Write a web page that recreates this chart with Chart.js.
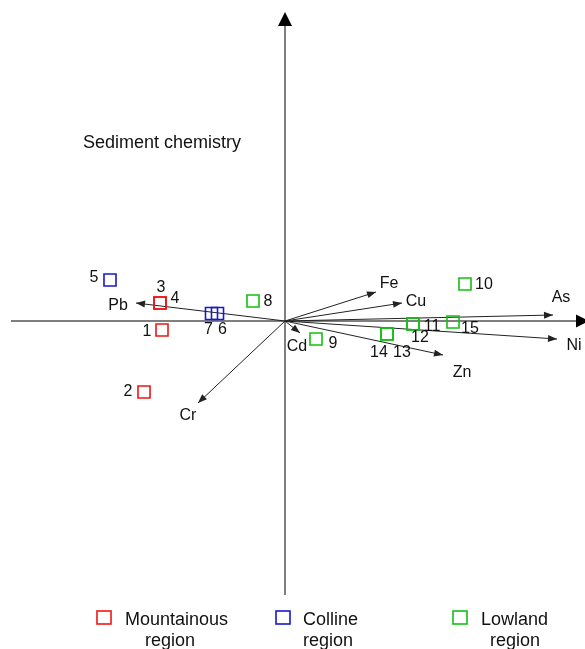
<!DOCTYPE html>
<html>
<head>
<meta charset="utf-8">
<script src="https://cdn.jsdelivr.net/npm/chart.js@4.4.1/dist/chart.umd.min.js"></script>
<style>
  html, body { margin: 0; padding: 0; background: #fff; }
  #wrap { width: 585px; height: 649px; position: relative; }
</style>
</head>
<body>
<div id="wrap"><canvas id="c"></canvas></div>
<script>
// Variable loadings (arrow tips) on the two ordination axes
const variables = ['Pb', 'Cr', 'Fe', 'Cu', 'As', 'Ni', 'Zn', 'Cd'];
const loadX = [-1.49, -0.87, 0.91, 1.17, 2.68, 2.72, 1.58, 0.15];
const loadY = [0.18, -0.82, 0.29, 0.18, 0.06, -0.18, -0.34, -0.12];

// Sampling sites and their scores
const siteIds = ['1', '2', '3', '4', '5', '6', '7', '8', '9', '10', '11', '12', '13', '14', '15'];
const siteRegion = [0, 0, 0, 0, 1, 1, 1, 2, 2, 2, 2, 2, 2, 2, 2];
const scoreX = [-1.23, -1.41, -1.25, -1.25, -1.75, -0.675, -0.735, -0.32, 0.31, 1.80, 1.28, 1.28, 1.02, 1.02, 1.68];
const scoreY = [-0.09, -0.71, 0.18, 0.18, 0.41, 0.075, 0.075, 0.20, -0.18, 0.37, -0.03, -0.03, -0.13, -0.13, -0.01];

// Region groups
const regionNames = ['Mountainous', 'Colline', 'Lowland'];
const regionSub = 'region';
const regionColors = ['#f01414', '#1818cc', '#12c012'];

// Label placement (pixel offsets from each mark)
const varLabelOffset = {
  Pb: [-18, 3], Cr: [-10, 13], Fe: [13, -8], Cu: [14, -1],
  As: [8, -17], Ni: [17, 7], Zn: [19, 18], Cd: [-3, 14]
};
const siteLabelOffset = {
  '1': [-15, 2], '2': [-16, 0], '3': [1, -15], '4': [15, -4], '5': [-16, -2],
  '6': [5, 16], '7': [-3, 16], '8': [15, 1], '9': [17, 5], '10': [19, 1],
  '11': [19, 3], '12': [7, 14], '13': [15, 19], '14': [-8, 19], '15': [17, 7]
};

const FONT = '"Liberation Sans", Arial, Helvetica, sans-serif';

const datasets = [];
// loading arrows as two-point lines from the origin
variables.forEach((v, i) => {
  datasets.push({
    label: v,
    type: 'scatter',
    showLine: true,
    data: [{ x: 0, y: 0 }, { x: loadX[i], y: loadY[i] }],
    borderColor: '#222',
    borderWidth: 1,
    pointRadius: 0,
    order: 2
  });
});
// site scores grouped by region
regionNames.forEach((r, k) => {
  const pts = [];
  siteIds.forEach((id, i) => {
    if (siteRegion[i] === k) pts.push({ x: scoreX[i], y: scoreY[i], id });
  });
  datasets.push({
    label: r + ' ' + regionSub,
    type: 'scatter',
    data: pts,
    pointStyle: 'rect',
    pointRadius: 8.5,
    borderColor: regionColors[k],
    backgroundColor: 'rgba(0,0,0,0)',
    borderWidth: 1.6,
    order: 1
  });
});

function arrowHead(ctx, x0, y0, x1, y1, len, half) {
  const a = Math.atan2(y1 - y0, x1 - x0);
  ctx.beginPath();
  ctx.moveTo(x1, y1);
  ctx.lineTo(x1 - len * Math.cos(a) + half * Math.sin(a), y1 - len * Math.sin(a) - half * Math.cos(a));
  ctx.lineTo(x1 - len * Math.cos(a) - half * Math.sin(a), y1 - len * Math.sin(a) + half * Math.cos(a));
  ctx.closePath();
  ctx.fill();
}

const biplot = {
  id: 'biplot',
  beforeDatasetsDraw(chart) {
    const { ctx, scales: { x, y } } = chart;
    const ox = x.getPixelForValue(0), oy = y.getPixelForValue(0);
    ctx.save();
    ctx.strokeStyle = '#555';
    ctx.fillStyle = '#000';
    ctx.lineWidth = 1.5;
    // horizontal axis
    const xl = x.getPixelForValue(-2.74), xr = x.getPixelForValue(3.04);
    ctx.beginPath(); ctx.moveTo(xl, oy); ctx.lineTo(xr - 8, oy); ctx.stroke();
    arrowHead(ctx, ox, oy, xr, oy, 13, 6.5);
    // vertical axis
    const yb = y.getPixelForValue(-2.74), yt = y.getPixelForValue(3.09);
    ctx.beginPath(); ctx.moveTo(ox, yb); ctx.lineTo(ox, yt + 8); ctx.stroke();
    arrowHead(ctx, ox, oy, ox, yt, 14, 7);
    // title
    ctx.fillStyle = '#111';
    ctx.font = '18px ' + FONT;
    ctx.textAlign = 'left';
    ctx.textBaseline = 'middle';
    ctx.fillText('Sediment chemistry', 83, 143);
    ctx.restore();
  },
  afterDatasetsDraw(chart) {
    const { ctx, scales: { x, y } } = chart;
    const ox = x.getPixelForValue(0), oy = y.getPixelForValue(0);
    ctx.save();
    ctx.fillStyle = '#222';
    variables.forEach((v, i) => {
      const px = x.getPixelForValue(loadX[i]), py = y.getPixelForValue(loadY[i]);
      arrowHead(ctx, ox, oy, px, py, 9, 3.5);
    });
    ctx.fillStyle = '#111';
    ctx.font = '16px ' + FONT;
    ctx.textAlign = 'center';
    ctx.textBaseline = 'middle';
    variables.forEach((v, i) => {
      const px = x.getPixelForValue(loadX[i]), py = y.getPixelForValue(loadY[i]);
      const o = varLabelOffset[v];
      ctx.fillText(v, px + o[0], py + o[1]);
    });
    siteIds.forEach((id, i) => {
      const px = x.getPixelForValue(scoreX[i]), py = y.getPixelForValue(scoreY[i]);
      const o = siteLabelOffset[id];
      ctx.fillText(id, px + o[0], py + o[1]);
    });
    // legend
    const legX = [104, 283, 460];
    const textX = [125, 303, 481];
    const subX = [170, 328, 515];
    ctx.font = '18px ' + FONT;
    regionNames.forEach((r, k) => {
      ctx.strokeStyle = regionColors[k];
      ctx.lineWidth = 1.6;
      ctx.strokeRect(legX[k] - 7, 611, 14, 13);
      ctx.fillStyle = '#111';
      ctx.textAlign = 'left';
      ctx.fillText(r, textX[k], 620);
      ctx.textAlign = 'center';
      ctx.fillText(regionSub, subX[k], 641);
    });
    ctx.restore();
  }
};

new Chart(document.getElementById('c'), {
  type: 'scatter',
  data: { datasets },
  options: {
    responsive: true,
    maintainAspectRatio: false,
    animation: false,
    layout: { padding: 0, autoPadding: false },
    plugins: { legend: { display: false }, tooltip: { enabled: false }, title: { display: false } },
    scales: {
      x: { type: 'linear', min: -2.85, max: 3.0, display: false },
      y: { type: 'linear', min: -3.28, max: 3.21, display: false }
    }
  },
  plugins: [biplot]
});
</script>
</body>
</html>
